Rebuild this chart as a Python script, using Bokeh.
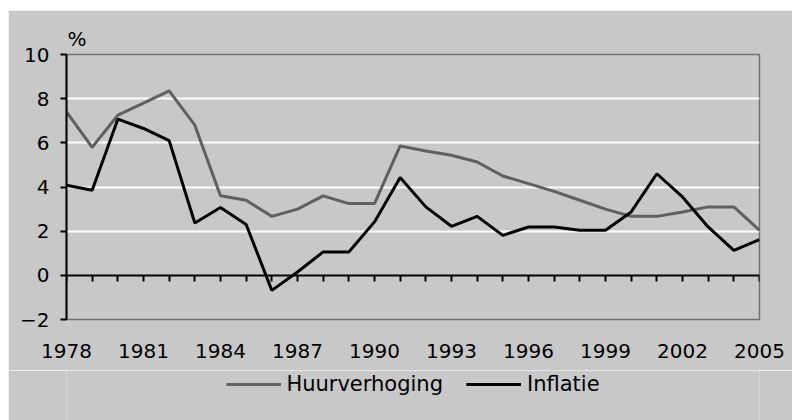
from bokeh.plotting import figure
from bokeh.models import (Range1d, LinearAxis, FixedTicker, Legend, LegendItem)
from bokeh.layouts import column
from bokeh.embed import file_html
from bokeh.resources import INLINE

years = list(range(1978, 2006))
huurverhoging = [7.4, 5.8, 7.25, 7.8, 8.35, 6.8, 3.6, 3.4, 2.67, 3.0, 3.6, 3.25, 3.25, 5.86,
                 5.63, 5.44, 5.13, 4.5, 4.15, 3.8, 3.4, 3.0, 2.67, 2.67, 2.87, 3.1, 3.1, 2.04]
inflatie = [4.08, 3.85, 7.07, 6.65, 6.1, 2.37, 3.07, 2.3, -0.68, 0.15, 1.06, 1.06, 2.42, 4.43,
            3.1, 2.22, 2.67, 1.81, 2.19, 2.19, 2.04, 2.04, 2.87, 4.6, 3.55, 2.19, 1.13, 1.62]
year_labels = [1978, 1981, 1984, 1987, 1990, 1993, 1996, 1999, 2002, 2005]
y_ticks = [-2, 0, 2, 4, 6, 8, 10]
grid_ticks = [2, 4, 6, 8]
series_names = ["Huurverhoging", "Inflatie"]
series_colors = ["#606060", "black"]
series_values = [huurverhoging, inflatie]

BG = "#c8c8c8"
FONT = "DejaVu Sans"

p = figure(width=784, height=360, output_backend="svg", toolbar_location=None, tools="",
           x_range=Range1d(1978, 2005), y_range=Range1d(-2, 10),
           background_fill_color=BG, border_fill_color=BG,
           min_border_left=58, min_border_right=33, min_border_top=44, min_border_bottom=51)
p.margin = (10, 0, 0, 8)
p.outline_line_color = "#707070"
p.outline_line_width = 1.5

# "%" unit label above the y axis
p.title.text = "%"
p.title.align = "left"
p.title.offset = 1
p.title.standoff = 7
p.title.text_font = FONT
p.title.text_font_size = "20px"
p.title.text_font_style = "normal"
p.title.text_color = "black"

# grids
p.xgrid.visible = False
p.ygrid.ticker = FixedTicker(ticks=grid_ticks)
p.ygrid.grid_line_color = "white"
p.ygrid.grid_line_width = 2

# y axis
p.yaxis.ticker = FixedTicker(ticks=y_ticks)
p.yaxis.axis_line_color = "black"
p.yaxis.axis_line_width = 2
p.yaxis.major_tick_out = 6
p.yaxis.major_tick_in = 0
p.yaxis.major_tick_line_width = 2
p.yaxis.minor_tick_line_color = None
p.yaxis.major_label_standoff = 11
p.yaxis.major_label_text_font = FONT
p.yaxis.major_label_text_font_size = "20px"
p.yaxis.major_label_text_color = "black"

# x axis labels (below the frame)
p.xaxis.ticker = FixedTicker(ticks=year_labels)
p.xaxis.axis_line_color = None
p.xaxis.major_tick_line_color = None
p.xaxis.minor_tick_line_color = None
p.xaxis.major_label_standoff = 18
p.xaxis.major_label_text_font = FONT
p.xaxis.major_label_text_font_size = "20px"
p.xaxis.major_label_text_color = "black"

# x axis line with yearly ticks at y = 0
tick_axis = LinearAxis(ticker=FixedTicker(ticks=years), fixed_location=0)
tick_axis.axis_line_color = "black"
tick_axis.axis_line_width = 2
tick_axis.major_tick_in = 6
tick_axis.major_tick_out = 0
tick_axis.major_tick_line_width = 2
tick_axis.minor_tick_line_color = None
tick_axis.major_label_standoff = 0
tick_axis.major_label_text_font_size = "0px"
tick_axis.major_label_text_color = None
p.add_layout(tick_axis, "above")

for vals, color in zip(series_values, series_colors):
    p.line(years, vals, line_color=color, line_width=3)

# legend strip below the chart (its sample lines lie outside this strip's range)
q = figure(width=784, height=50, output_backend="svg", toolbar_location=None, tools="",
           x_axis_type=None, y_axis_type=None,
           background_fill_color=BG, background_fill_alpha=1.0,
           border_fill_color=BG, border_fill_alpha=1.0, outline_line_color=None,
           min_border_left=58, min_border_right=33, min_border_top=0, min_border_bottom=0,
           x_range=Range1d(0, 1), y_range=Range1d(0, 1))
q.margin = (0, 0, 0, 8)
items = []
for name, color, vals in zip(series_names, series_colors, series_values):
    r = q.line(years, vals, line_color=color, line_width=3)
    items.append(LegendItem(label=name, renderers=[r]))
legend = Legend(items=items, orientation="horizontal", location="top",
                glyph_width=55, glyph_height=22, label_standoff=6, spacing=23,
                padding=0, margin=2,
                label_text_font=FONT, label_text_font_size="21px", label_text_color="black",
                background_fill_alpha=0, border_line_color=None)
q.add_layout(legend)

layout = column(p, q, spacing=0)
open("out.html", "w").write(file_html(layout, INLINE))
